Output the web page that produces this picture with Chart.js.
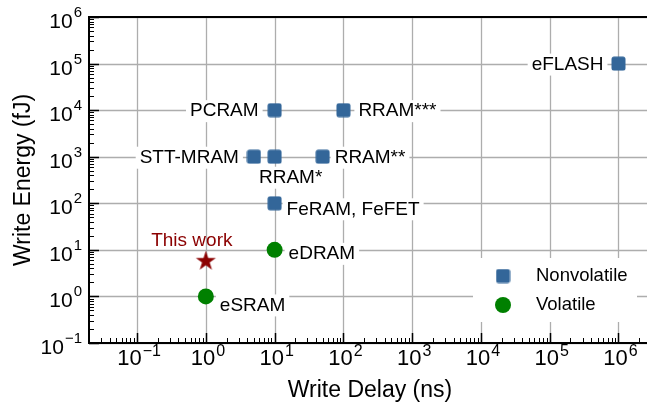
<!DOCTYPE html>
<html>
<head>
<meta charset="utf-8">
<title>Write energy vs write delay</title>
<script src="https://cdn.jsdelivr.net/npm/chart.js@4"></script>
<style>
  html, body { margin: 0; padding: 0; background: #fff; }
  #wrap { width: 647px; height: 411px; }
</style>
</head>
<body>
<div id="wrap"><canvas id="memChart" width="647" height="411"></canvas></div>
<script>
// Memory technologies: write delay (ns) vs write energy (fJ)
const nvNames = ["eFLASH", "PCRAM", "RRAM***", "STT-MRAM", "RRAM*", "RRAM**", "FeRAM, FeFET"];
const nvDelay = [1e6, 10, 100, 5, 10, 50, 10];
const nvEnergy = [1e5, 1e4, 1e4, 1e3, 1e3, 1e3, 100];

const volNames = ["eSRAM", "eDRAM"];
const volDelay = [1, 10];
const volEnergy = [1, 10];

const workNames = ["This work"];
const workDelay = [1];
const workEnergy = [6];

const xTickExps = [-1, 0, 1, 2, 3, 4, 5, 6];
const yTickExps = [-1, 0, 1, 2, 3, 4, 5, 6];
const xLimits = [0.02, 2.6e6];
const yLimits = [0.1, 1e6];

const FONT = "'Liberation Sans', Arial, sans-serif";
const BLUE = "#336699";
const GREEN = "#008000";
const DARKRED = "#8b0000";

// where each annotation sits relative to its marker (pixels)
const labelPlace = {
  "eFLASH": { dx: -15, dy: 1, align: "right" },
  "PCRAM": { dx: -16, dy: 1, align: "right" },
  "RRAM***": { dx: 15, dy: 1, align: "left" },
  "STT-MRAM": { dx: -15, dy: 1, align: "right" },
  "RRAM*": { dx: 16, dy: 21, align: "center" },
  "RRAM**": { dx: 12, dy: 1, align: "left" },
  "FeRAM, FeFET": { dx: 12, dy: 6, align: "left" },
  "eDRAM": { dx: 14, dy: 4, align: "left" },
  "eSRAM": { dx: 14, dy: 9, align: "left" },
  "This work": { dx: -14, dy: -19, align: "center", color: DARKRED, noBox: true }
};

// marker images
function squareMarker(size, color) {
  const c = document.createElement("canvas");
  c.width = c.height = size;
  const g = c.getContext("2d");
  g.fillStyle = color;
  g.beginPath();
  g.roundRect(0.5, 0.5, size - 1, size - 1, 2.5);
  g.fill();
  return c;
}

function starMarker(rOut, color) {
  const size = Math.ceil(rOut * 2 + 2);
  const c = document.createElement("canvas");
  c.width = c.height = size;
  const g = c.getContext("2d");
  const rIn = rOut * 0.382;
  const cx = size / 2, cy = size / 2 + rOut * 0.1;
  g.fillStyle = color;
  g.beginPath();
  for (let i = 0; i < 10; i++) {
    const r = i % 2 === 0 ? rOut : rIn;
    const a = -Math.PI / 2 + i * Math.PI / 5;
    const px = cx + r * Math.cos(a), py = cy + r * Math.sin(a);
    if (i === 0) g.moveTo(px, py); else g.lineTo(px, py);
  }
  g.closePath();
  g.fill();
  return c;
}

const squareImg = squareMarker(15, BLUE);
const starImg = starMarker(10.5, DARKRED);

const toPoints = (xs, ys) => xs.map((x, i) => ({ x: x, y: ys[i] }));

// superscript "10^n" label
function drawPow(ctx, exp, x, y, align, baseSize, supSize, supRise) {
  const expText = exp < 0 ? "\u2212" + Math.abs(exp) : String(exp);
  ctx.font = baseSize + "px " + FONT;
  const w1 = ctx.measureText("10").width;
  ctx.font = supSize + "px " + FONT;
  const w2 = ctx.measureText(expText).width;
  const total = w1 + w2 + 1;
  let left = x;
  if (align === "right") left = x - total;
  if (align === "center") left = x - total / 2;
  ctx.textAlign = "left";
  ctx.textBaseline = "alphabetic";
  ctx.font = baseSize + "px " + FONT;
  ctx.fillText("10", left, y);
  ctx.font = supSize + "px " + FONT;
  ctx.fillText(expText, left + w1 + 1, y - supRise);
}

const decorPlugin = {
  id: "decor",
  beforeDatasetsDraw(chart) {
    const { ctx, chartArea: a, scales } = chart;
    const xs = scales.x, ys = scales.y;
    ctx.save();

    // major grid lines
    ctx.strokeStyle = "#adadad";
    ctx.lineWidth = 1.3;
    xTickExps.forEach((e) => {
      const px = Math.round(xs.getPixelForValue(Math.pow(10, e))) + 0.5;
      ctx.beginPath(); ctx.moveTo(px, a.top); ctx.lineTo(px, a.bottom); ctx.stroke();
    });
    yTickExps.forEach((e) => {
      const py = Math.round(ys.getPixelForValue(Math.pow(10, e))) + 0.5;
      ctx.beginPath(); ctx.moveTo(a.left, py); ctx.lineTo(a.right, py); ctx.stroke();
    });

    // point annotations with white boxes
    const named = [
      [nvNames, nvDelay, nvEnergy],
      [volNames, volDelay, volEnergy],
      [workNames, workDelay, workEnergy]
    ];
    ctx.font = "19px " + FONT;
    ctx.textBaseline = "middle";
    named.forEach(([names, dx, dy]) => {
      names.forEach((name, i) => {
        const p = labelPlace[name];
        const px = xs.getPixelForValue(dx[i]) + p.dx;
        const py = ys.getPixelForValue(dy[i]) + p.dy;
        const w = ctx.measureText(name).width;
        let left = px;
        if (p.align === "right") left = px - w;
        if (p.align === "center") left = px - w / 2;
        if (!p.noBox) {
          ctx.fillStyle = "#fff";
          ctx.fillRect(left - 4, py - 11, w + 8, 22);
        }
        ctx.fillStyle = p.color || "#000";
        ctx.textAlign = "left";
        ctx.fillText(name, left, py);
      });
    });

    // legend
    ctx.fillStyle = "#fff";
    ctx.fillRect(473, 258, 164, 64);
    const entries = chart.data.datasets.filter((d) => d.inLegend);
    entries.forEach((d, i) => {
      const cy = 276 + i * 29;
      if (d.pointStyle === "circle") {
        ctx.fillStyle = d.backgroundColor;
        ctx.beginPath(); ctx.arc(503, cy, d.pointRadius, 0, Math.PI * 2); ctx.fill();
      } else {
        ctx.drawImage(d.pointStyle, 503 - d.pointStyle.width / 2, cy - d.pointStyle.height / 2);
      }
      ctx.fillStyle = "#000";
      ctx.font = "18.5px " + FONT;
      ctx.textAlign = "left";
      ctx.textBaseline = "middle";
      ctx.fillText(d.label, 536, cy);
    });
    ctx.restore();
  },
  afterDraw(chart) {
    const { ctx, chartArea: a, scales } = chart;
    const xs = scales.x, ys = scales.y;
    ctx.save();
    ctx.strokeStyle = "#000";

    // inward tick marks
    for (let e = -2; e <= 6; e++) {
      for (let s = 1; s <= 9; s++) {
        const v = s * Math.pow(10, e);
        const len = s === 1 ? 10 : 5;
        ctx.lineWidth = s === 1 ? 1.5 : 1;
        if (v >= xLimits[0] && v <= xLimits[1]) {
          const px = Math.round(xs.getPixelForValue(v)) + 0.5;
          ctx.beginPath(); ctx.moveTo(px, a.bottom); ctx.lineTo(px, a.bottom - len); ctx.stroke();
        }
        if (v >= yLimits[0] && v <= yLimits[1]) {
          const py = Math.round(ys.getPixelForValue(v)) + 0.5;
          ctx.beginPath(); ctx.moveTo(a.left, py); ctx.lineTo(a.left + len, py); ctx.stroke();
        }
      }
    }

    // frame: left, bottom and top
    ctx.lineWidth = 2;
    ctx.beginPath();
    ctx.moveTo(a.right, a.top); ctx.lineTo(a.left, a.top);
    ctx.lineTo(a.left, a.bottom); ctx.lineTo(a.right, a.bottom);
    ctx.stroke();

    // tick labels
    ctx.fillStyle = "#000";
    xTickExps.forEach((e) => {
      const px = xs.getPixelForValue(Math.pow(10, e));
      drawPow(ctx, e, px + 2, 365, "center", 22, 16, 9);
    });
    yTickExps.forEach((e) => {
      const py = ys.getPixelForValue(Math.pow(10, e));
      drawPow(ctx, e, 82, py + 11, "right", 21, 15, 11);
    });

    // axis titles
    ctx.font = "23px " + FONT;
    ctx.textAlign = "center";
    ctx.textBaseline = "alphabetic";
    ctx.fillText("Write Delay (ns)", (a.left + a.right) / 2 + 2, 397);
    ctx.translate(30, (a.top + a.bottom) / 2);
    ctx.rotate(-Math.PI / 2);
    ctx.fillText("Write Energy (fJ)", 0, 0);
    ctx.restore();
  }
};

const ctx = document.getElementById("memChart");

new Chart(ctx, {
  type: "scatter",
  data: {
    datasets: [
      {
        label: "Nonvolatile",
        data: toPoints(nvDelay, nvEnergy),
        pointStyle: squareImg,
        backgroundColor: BLUE,
        inLegend: true
      },
      {
        label: "Volatile",
        data: toPoints(volDelay, volEnergy),
        pointStyle: "circle",
        pointRadius: 8,
        backgroundColor: GREEN,
        borderWidth: 0,
        inLegend: true
      },
      {
        label: "This work",
        data: toPoints(workDelay, workEnergy),
        pointStyle: starImg,
        backgroundColor: DARKRED
      }
    ]
  },
  options: {
    responsive: false,
    animation: false,
    events: [],
    layout: { autoPadding: false, padding: { top: 17, right: 0, left: 0, bottom: 0 } },
    plugins: {
      legend: { display: false },
      tooltip: { enabled: false }
    },
    scales: {
      x: {
        type: "logarithmic",
        min: xLimits[0],
        max: xLimits[1],
        ticks: { display: false },
        grid: { display: false },
        border: { display: false },
        afterFit: (scale) => { scale.height = 68; }
      },
      y: {
        type: "logarithmic",
        min: yLimits[0],
        max: yLimits[1],
        ticks: { display: false },
        grid: { display: false },
        border: { display: false },
        afterFit: (scale) => { scale.width = 89; }
      }
    }
  },
  plugins: [decorPlugin]
});
</script>
</body>
</html>
